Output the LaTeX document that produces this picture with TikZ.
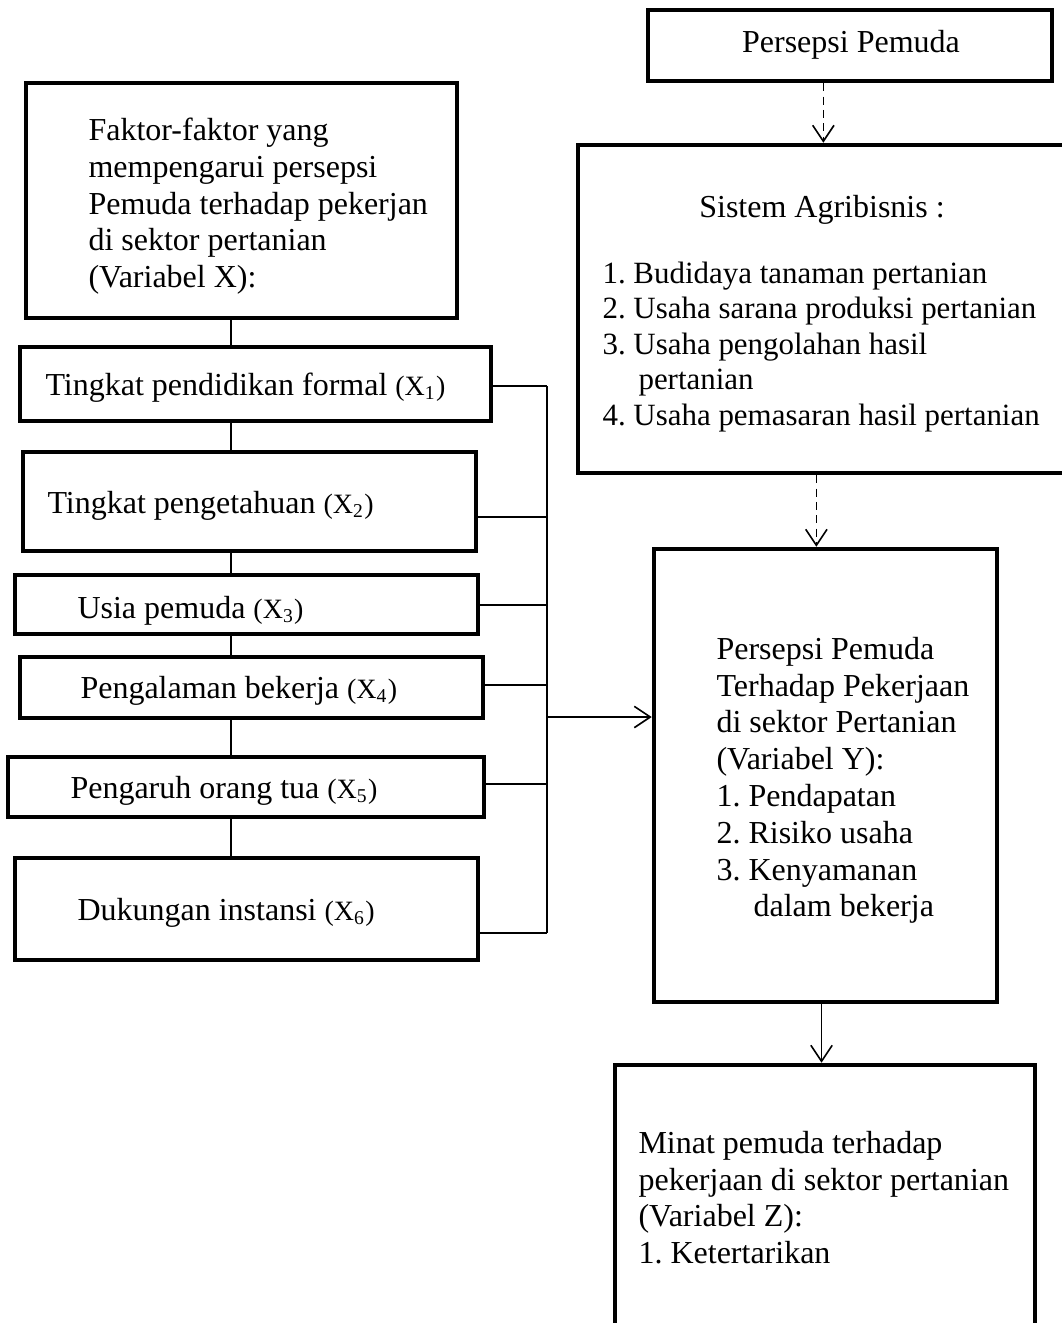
\documentclass[tikz,border=0pt]{standalone}
\usepackage{fontspec}
\setmainfont{Liberation Serif}
\usetikzlibrary{arrows.meta,fit}
\frenchspacing

\tikzset{
  box/.style={draw, line width=1.7pt, inner sep=0pt},
  txt/.style={inner sep=0pt, align=left, font=\fontsize{12}{13.8}\selectfont},
  link/.style={line width=0.6pt},
  arrow/.style={link, -{Straight Barb[length=6pt,width=8pt]}},
  dasharrow/.style={arrow, dash pattern=on 3pt off 2pt}
}
\newcommand{\xsub}[1]{{\fontsize{10.5}{12}\selectfont (X\textsubscript{#1})}}

\begin{document}
\begin{tikzpicture}[x=0.375pt, y=-0.375pt]
\useasboundingbox (0,0) rectangle (1062,1323);
\clip (0,0) rectangle (1062,1323);

% right column
\node[box, fit={(648,10) (1052,81)}] (persepsi) {};
\node[txt, anchor=base] (tpersepsi) at (851,53) {Persepsi Pemuda};

\node[box, fit={(578,145) (1075,473)}] (sistem) {};
\node[txt, anchor=base] (tsistem) at (822,217) {Sistem Agribisnis :};
\node[txt, anchor=north west, font=\fontsize{11.6}{13.3}\selectfont] (lsistem) at (602,261.5)
  {1. Budidaya tanaman pertanian\\
   2. Usaha sarana produksi pertanian\\
   3. Usaha pengolahan hasil\\
   \hspace*{13.5pt}pertanian\\
   4. Usaha pemasaran hasil pertanian};

\node[box, fit={(654,549) (997,1002)}] (persy) {};
\node[txt, anchor=north west] (tpersy) at (716,636.5)
  {Persepsi Pemuda\\
   Terhadap Pekerjaan\\
   di sektor Pertanian\\
   (Variabel Y):\\
   1. Pendapatan\\
   2. Risiko usaha\\
   3. Kenyamanan\\
   \hspace*{13.9pt}dalam bekerja};

\node[box, fit={(615,1065) (1035,1345)}] (minat) {};
\node[txt, anchor=north west] (tminat) at (638,1130.5)
  {Minat pemuda terhadap\\
   pekerjaan di sektor pertanian\\
   (Variabel Z):\\
   1. Ketertarikan};

% left column
\node[box, fit={(26,83) (457,318)}] (faktor) {};
\node[txt, anchor=north west] (tfaktor) at (88,117.5)
  {Faktor-faktor yang\\
   mempengarui persepsi\\
   Pemuda terhadap pekerjan\\
   di sektor pertanian\\
   (Variabel X):};

\node[box, fit={(20,347) (491,421)}] (x1) {};
\node[box, fit={(23,452) (476,551)}] (x2) {};
\node[box, fit={(15,575) (478,634)}] (x3) {};
\node[box, fit={(20,657) (483,718)}] (x4) {};
\node[box, fit={(8,757) (484,817)}] (x5) {};
\node[box, fit={(15,858) (478,960)}] (x6) {};

\node[txt, anchor=base west] (t1) at (45,395) {Tingkat pendidikan formal \xsub{1}};
\node[txt, anchor=base west] (t2) at (47,513) {Tingkat pengetahuan \xsub{2}};
\node[txt, anchor=base west] (t3) at (77,618) {Usia pemuda \xsub{3}};
\node[txt, anchor=base west] (t4) at (80,698) {Pengalaman bekerja \xsub{4}};
\node[txt, anchor=base west] (t5) at (70,798) {Pengaruh orang tua \xsub{5}};
\node[txt, anchor=base west] (t6) at (77,920) {Dukungan instansi \xsub{6}};

% spine down the left column
\coordinate (spine) at (231,0);
\draw[link] (faktor.south -| spine) -- (x1.north -| spine);
\foreach \a/\b in {x1/x2,x2/x3,x3/x4,x4/x5,x5/x6}
  \draw[link] (\a.south -| spine) -- (\b.north -| spine);

% bus to Y
\foreach \i/\y in {1/386,2/517,3/605,4/685,5/784,6/933} {
  \coordinate (b\i) at (547,\y);
  \draw[link] (b\i -| x\i.east) -- (b\i);
}
\draw[link] (b1) -- (b6);
\coordinate (join) at (547,717);
\draw[arrow] (join) -- (join -| persy.west);

% right column arrows
\draw[dasharrow] ([xshift=-10pt]persepsi.south) -- ([xshift=-10pt]persepsi.south |- sistem.north);
\draw[dasharrow] ([xshift=-3.8pt]sistem.south) -- ([xshift=-3.8pt]sistem.south |- persy.north);
\draw[arrow] ([xshift=-1.5pt]persy.south) -- ([xshift=-1.5pt]persy.south |- minat.north);

\end{tikzpicture}
\end{document}
